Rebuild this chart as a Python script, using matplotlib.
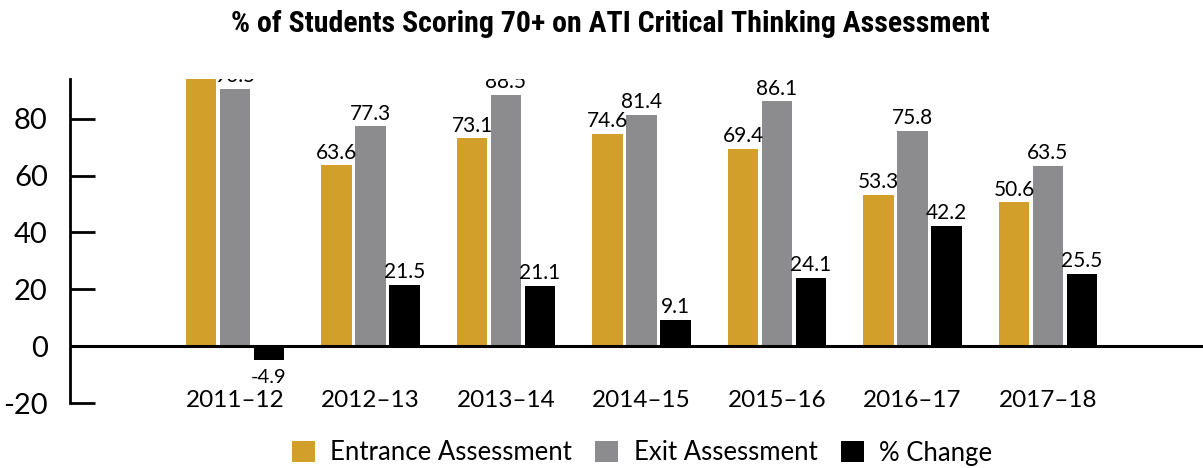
import numpy as np
import matplotlib
matplotlib.use("Agg")
import matplotlib.pyplot as plt
from matplotlib import font_manager

years = ["2011\u201312", "2012\u201313", "2013\u201314", "2014\u201315",
         "2015\u201316", "2016\u201317", "2017\u201318"]
entrance = [95.2, 63.6, 73.1, 74.6, 69.4, 53.3, 50.6]
exit_scores = [90.5, 77.3, 88.5, 81.4, 86.1, 75.8, 63.5]
pct_change = [-4.9, 21.5, 21.1, 9.1, 24.1, 42.2, 25.5]

plt.rcParams['font.family'] = ['Lato', 'DejaVu Sans']

# title font: condensed bold if one is around
names = {f.name for f in font_manager.fontManager.ttflist}
title_family = 'Roboto'
title_stretch = 'normal'
title_size = 18
for cand in ['Roboto Condensed', 'Liberation Sans Narrow', 'Open Sans Condensed']:
    if cand in names:
        title_family = cand
        title_size = 21.5
        break
else:
    cond = [f for f in font_manager.fontManager.ttflist
            if f.name in ('Noto Sans', 'Roboto', 'DejaVu Sans')
            and str(f.stretch) in ('condensed', '75', 'semi-condensed')]
    if cond:
        title_family = cond[0].name
        title_stretch = 'condensed'
        title_size = 21.5

fig = plt.figure(figsize=(12.03, 4.68), dpi=100)
ax = fig.add_axes([70/1203, 65/468, 1 - 70/1203, 324/468])

x = np.arange(len(years))
w = 0.225
step = 0.25
series = [
    (entrance, -step, '#D29F2A', 'Entrance Assessment'),
    (exit_scores, 0.0, '#8C8C8E', 'Exit Assessment'),
    (pct_change, step, '#000000', '% Change'),
]
for vals, off, col, lab in series:
    bars = ax.bar(x + off, vals, width=w, color=col, label=lab, zorder=2)
    for b, v in zip(bars, vals):
        cx = b.get_x() + b.get_width() / 2
        if v >= 0:
            ax.text(cx, v + 1.0, f"{v:.1f}", ha='center', va='bottom',
                    fontsize=15, clip_on=True)
        else:
            ax.text(cx, v - 3.2, f"{v:.1f}", ha='center', va='top',
                    fontsize=14.5, clip_on=True)

ax.axhline(0, color='black', lw=2.2, zorder=3)
ax.set_ylim(-20, 94)
ax.set_xlim(-(235 - 70) / 135.5, (1203 - 235) / 135.5)
ax.set_yticks([-20, 0, 20, 40, 60, 80])
ax.set_yticklabels(['-20', '0', '20', '40', '60', '80'])
ax.tick_params(axis='y', direction='in', length=18, width=2, pad=16, labelsize=21)
ax.set_xticks(x)
ax.set_xticklabels(years)
ax.tick_params(axis='x', length=0, pad=-9.5, labelsize=17.5)

for s in ['top', 'right', 'bottom']:
    ax.spines[s].set_visible(False)
ax.spines['left'].set_linewidth(2)

fig.text(0.507, 1 - 24/468, "% of Students Scoring 70+ on ATI Critical Thinking Assessment",
         ha='center', va='center', fontsize=title_size, fontweight='bold',
         fontstretch=title_stretch, family=[title_family, 'DejaVu Sans'])

fig.legend(loc='center', bbox_to_anchor=(642/1203, 1 - 453/468), ncol=3,
           frameon=False, fontsize=18.5, handlelength=0.9, handleheight=0.9,
           handletextpad=0.6, columnspacing=0.9, borderpad=0)

fig.savefig("out.png", dpi=100)
